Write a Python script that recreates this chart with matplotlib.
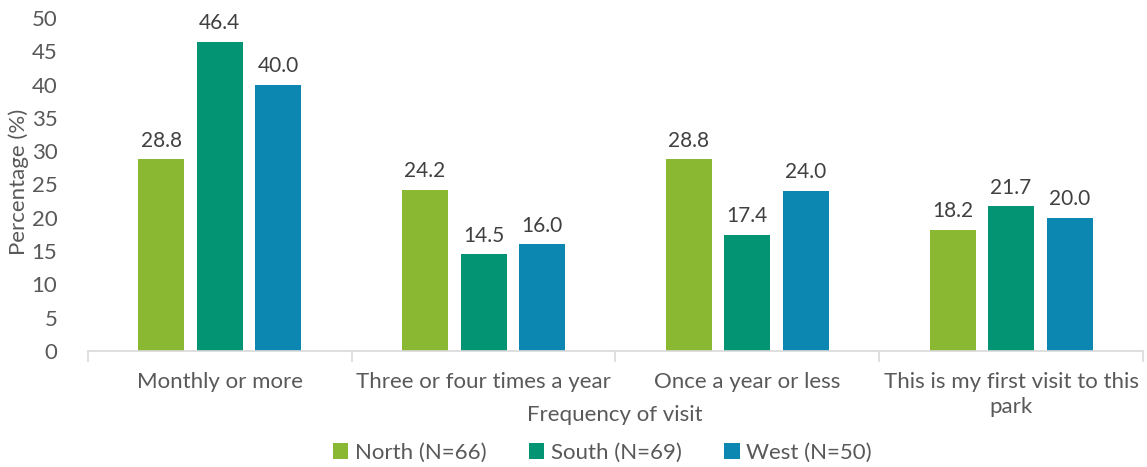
import numpy as np
import matplotlib.pyplot as plt

plt.rcParams['font.family'] = ['Lato', 'DejaVu Sans']

categories = ['Monthly or more', 'Three or four times a year',
              'Once a year or less', 'This is my first visit to this\npark']
north = [28.8, 24.2, 28.8, 18.2]
south = [46.4, 14.5, 17.4, 21.7]
west = [40.0, 16.0, 24.0, 20.0]
series = [('North (N=66)', north, '#8AB833'),
          ('South (N=69)', south, '#029473'),
          ('West (N=50)', west, '#0B87B1')]

txt = '#595959'
fig = plt.figure(figsize=(11.47, 4.67), dpi=100)
ax = fig.add_axes([0.0767, 0.2484, 0.9198, 0.7131])

x = np.arange(len(categories))
width = 0.174
step = 0.222
for i, (name, vals, col) in enumerate(series):
    pos = x + (i - 1) * step
    bars = ax.bar(pos, vals, width, color=col, label=name)
    for b, v in zip(bars, vals):
        ax.text(b.get_x() + b.get_width() / 2, v + 1.3, f'{v:.1f}',
                ha='center', va='bottom', fontsize=15, color='#404040')

ax.set_xlim(-0.5, len(categories) - 0.5)
ax.set_ylim(0, 50)
ax.set_yticks(range(0, 51, 5))
ax.set_xticks(x)
ax.set_xticklabels(categories, linespacing=1.3)
ax.set_xticks(np.arange(-0.5, len(categories), 1), minor=True)
ax.tick_params(axis='x', which='major', length=0, pad=15, labelsize=16, labelcolor=txt)
ax.tick_params(axis='x', which='minor', length=8, color='#D9D9D9', width=1.2)
ax.tick_params(axis='y', length=0, pad=22, labelsize=16, labelcolor=txt)
for s in ['top', 'right', 'left']:
    ax.spines[s].set_visible(False)
ax.spines['bottom'].set_color('#D9D9D9')
ax.spines['bottom'].set_linewidth(1.2)

fig.text(0.016, 0.61, 'Percentage (%)', rotation=90, ha='center', va='center',
         fontsize=16, color=txt)
fig.text(0.536, 0.111, 'Frequency of visit', ha='center', va='center',
         fontsize=16, color=txt)

fig.legend(loc='center', bbox_to_anchor=(0.525, 0.03), ncol=3, frameon=False,
           fontsize=16, labelcolor=txt, handlelength=0.7, handleheight=0.7,
           handletextpad=0.3, columnspacing=1.9)

fig.savefig('out.png', dpi=100)
